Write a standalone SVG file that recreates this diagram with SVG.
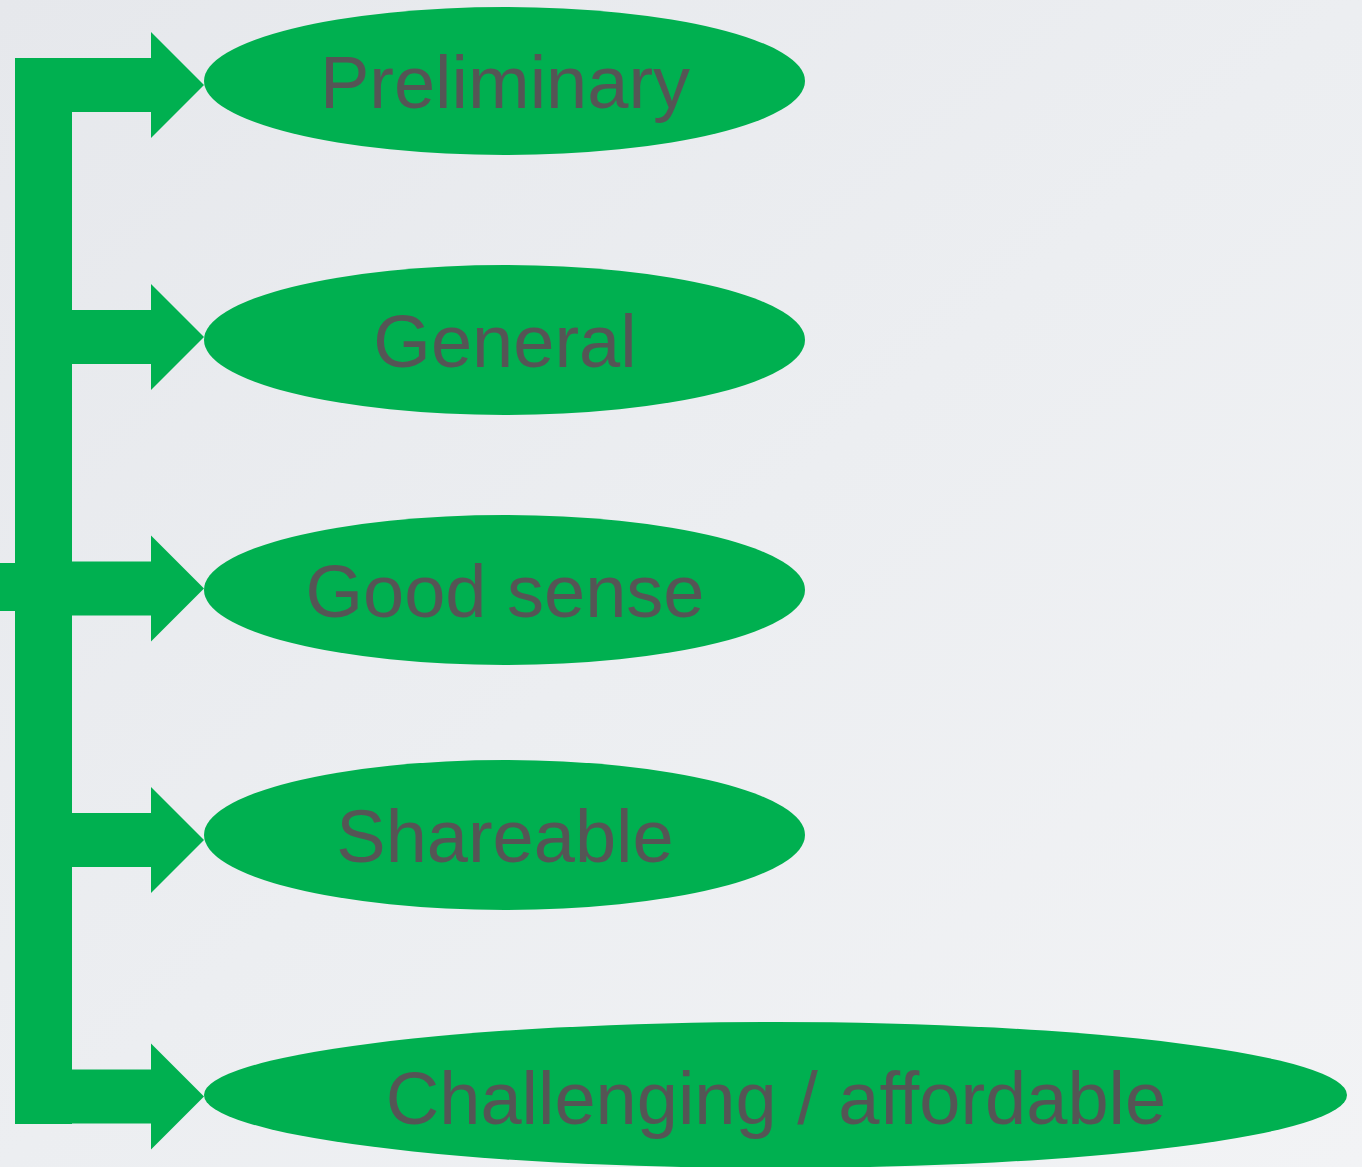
<svg xmlns="http://www.w3.org/2000/svg" xmlns:xlink="http://www.w3.org/1999/xlink" width="1362" height="1167" viewBox="0 0 1362 1167">
<defs>
<linearGradient id="bg" x1="0" y1="0" x2="1" y2="1">
<stop offset="0" stop-color="#e6e8ec"/>
<stop offset="0.5" stop-color="#eceef1"/>
<stop offset="1" stop-color="#f2f3f5"/>
</linearGradient>
<path id="arrow" d="M60,-27 H151 V-53 L204,0 L151,53 V27 H60 Z"/>
<style>
.g{fill:#00b050}
.t{font-family:"Liberation Sans",Arial,sans-serif;font-size:74px;fill:#555555;text-anchor:middle}
</style>
</defs>
<rect width="1362" height="1167" fill="url(#bg)"/>
<g id="connectors" class="g">
<rect x="15" y="58" width="57" height="1066"/>
<rect x="0" y="563" width="20" height="48"/>
<use xlink:href="#arrow" href="#arrow" transform="translate(0,85)"/>
<use xlink:href="#arrow" href="#arrow" transform="translate(0,337)"/>
<use xlink:href="#arrow" href="#arrow" transform="translate(0,588.5)"/>
<use xlink:href="#arrow" href="#arrow" transform="translate(0,840)"/>
<use xlink:href="#arrow" href="#arrow" transform="translate(0,1096.5)"/>
</g>
<g id="node-preliminary">
<ellipse class="g" cx="504.5" cy="81" rx="300.5" ry="74"/>
<text class="t" x="505" y="108">Preliminary</text>
</g>
<g id="node-general">
<ellipse class="g" cx="504.5" cy="340" rx="300.5" ry="75"/>
<text class="t" x="505" y="367">General</text>
</g>
<g id="node-goodsense">
<ellipse class="g" cx="504.5" cy="590" rx="300.5" ry="75"/>
<text class="t" x="505" y="617">Good sense</text>
</g>
<g id="node-shareable">
<ellipse class="g" cx="504.5" cy="835" rx="300.5" ry="75"/>
<text class="t" x="505" y="862">Shareable</text>
</g>
<g id="node-challenging">
<ellipse class="g" cx="775.5" cy="1095" rx="571.5" ry="73"/>
<text class="t" x="776" y="1124">Challenging / affordable</text>
</g>
</svg>
